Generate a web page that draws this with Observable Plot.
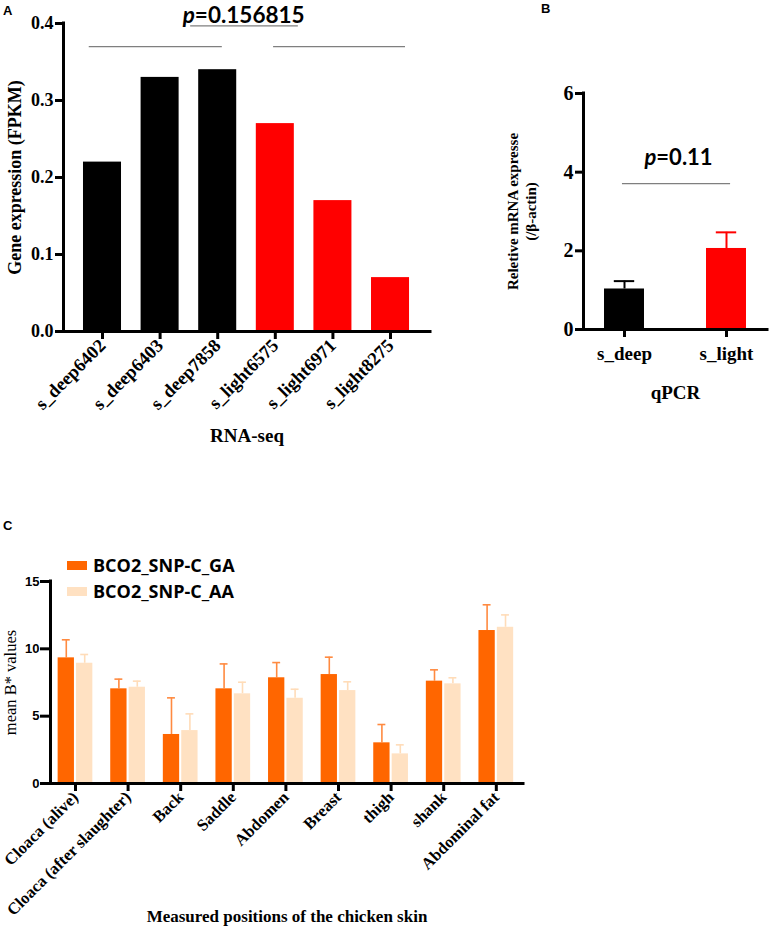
<!DOCTYPE html>
<html>
<head>
<meta charset="utf-8">
<script src="https://cdn.jsdelivr.net/npm/d3@7"></script>
<script src="https://cdn.jsdelivr.net/npm/@observablehq/plot@0.6"></script>
<style>
  body { margin: 0; background: #fff; }
  #root { position: relative; width: 770px; height: 927px; overflow: hidden; background: #fff; }
  .letter { position: absolute; font-family: "Liberation Sans", sans-serif; font-weight: bold; font-size: 13px; line-height: 13px; }
  .legend-row { position: absolute; left: 67px; height: 20px; display: flex; align-items: center; white-space: nowrap;
    font-family: "Open Sans", sans-serif; font-weight: bold; font-size: 18px; line-height: 20px; }
  .legend-row .sw { display: inline-block; width: 20px; height: 9px; margin-right: 6px; }
  svg { overflow: visible; }
</style>
</head>
<body>
<div id="root"></div>
<script>
// ---------------- DATA ----------------
// Panel A: RNA-seq
const rnaSamples = ["s_deep6402", "s_deep6403", "s_deep7858", "s_light6575", "s_light6971", "s_light8275"];
const rnaValues = [0.22, 0.33, 0.34, 0.27, 0.17, 0.07];
const rnaGroups = ["deep", "deep", "deep", "light", "light", "light"];
const rnaTicks = [0, 0.1, 0.2, 0.3, 0.4];
const rnaPText = "p=0.156815";
const rnaBrackets = [
  { from: -0.23, to: 2.08, level: 0.370 },
  { from: 2.97, to: 5.26, level: 0.370 },
  { from: 1.53, to: 3.40, level: 0.397 }
];

// Panel B: qPCR
const qpcrGroups = ["s_deep", "s_light"];
const qpcrMeans = [1.03, 2.06];
const qpcrErrors = [0.20, 0.41];
const qpcrTicks = [0, 2, 4, 6];
const qpcrPText = "p=0.11";
const qpcrBracket = [{ from: -0.02, to: 1.04, level: 3.71 }];

// Panel C: skin colour by genotype
const positions = ["Cloaca (alive)", "Cloaca (after slaughter)", "Back", "Saddle", "Abdomen", "Breast", "thigh", "shank", "Abdominal fat"];
const genotypes = ["BCO2_SNP-C_GA", "BCO2_SNP-C_AA"];
const gaMeans  = [9.33, 7.03, 3.64, 7.03, 7.85, 8.09, 3.02, 7.60, 11.36];
const gaErrors = [1.34, 0.72, 2.72, 1.85, 1.13, 1.29, 1.36, 0.84, 1.91];
const aaMeans  = [8.93, 7.15, 3.93, 6.66, 6.33, 6.90, 2.20, 7.40, 11.60];
const aaErrors = [0.65, 0.45, 1.24, 0.86, 0.67, 0.65, 0.67, 0.45, 0.92];
const skinTicks = [0, 5, 10, 15];

// ---------------- HELPERS ----------------
const root = document.getElementById("root");
function place(el, left, top) {
  el.style.position = "absolute";
  el.style.left = left + "px";
  el.style.top = top + "px";
  root.appendChild(el);
}
function italicP(svg) {
  d3.select(svg).selectAll("text").each(function () {
    const t = this.textContent;
    if (/^p=/.test(t)) {
      const target = this.querySelector("tspan") || this;
      target.textContent = "";
      const s = d3.select(target);
      s.append("tspan").attr("font-style", "italic").text("p");
      s.append("tspan").text(t.slice(1));
    }
  });
}
function letter(txt, left, top) {
  const d = document.createElement("div");
  d.className = "letter";
  d.textContent = txt;
  d.style.left = left + "px";
  d.style.top = top + "px";
  root.appendChild(d);
}
const serif = "Liberation Serif";
const baseStyle = { fontFamily: serif, fontWeight: "bold", fontSize: "17px", background: "transparent", color: "#000", overflow: "visible" };

// ---------------- PANEL A ----------------
const rnaData = rnaSamples.map((s, i) => ({ i, sample: s, value: rnaValues[i], group: rnaGroups[i] }));
const xDomA = [-0.677, 5.694];
const plotA = Plot.plot({
  width: 440, height: 460,
  marginLeft: 63, marginRight: 10, marginTop: 23, marginBottom: 129,
  style: baseStyle,
  x: { domain: xDomA },
  y: { domain: [0, 0.4] },
  color: { domain: ["deep", "light"], range: ["#000000", "#ff0000"] },
  marks: [
    Plot.rect(rnaData, { x1: d => d.i - 0.33, x2: d => d.i + 0.33, y1: 0, y2: "value", fill: "group" }),
    Plot.ruleY(rnaBrackets, { y: "level", x1: "from", x2: "to", stroke: "#7f7f7f", strokeWidth: 1.3 }),
    Plot.ruleY([0], { strokeWidth: 3, strokeLinecap: "square" }),
    Plot.ruleX([xDomA[0]], { y1: 0, y2: 0.4, strokeWidth: 3, strokeLinecap: "square" }),
    Plot.axisY({ ticks: rnaTicks, tickFormat: d3.format(".1f"), tickSize: 8, tickPadding: 2, strokeWidth: 3, fontSize: 18, label: null }),
    Plot.axisX({ ticks: rnaSamples.map((_, i) => i), tickFormat: i => rnaSamples[i], tickRotate: -45, tickSize: 8, tickPadding: 3, strokeWidth: 3, fontSize: 18.5, label: null }),
    Plot.text(["Gene expression (FPKM)"], { text: d => d, frameAnchor: "left", textAnchor: "middle", lineAnchor: "middle", rotate: -90, dx: -48, fontSize: 18 }),
    Plot.text(["RNA-seq"], { text: d => d, frameAnchor: "bottom", lineAnchor: "middle", dy: 104, fontSize: 19 }),
    Plot.text([rnaPText], { text: d => d, x: 2.45, y: 0.4, dy: -8, lineAnchor: "middle", fontFamily: "Lato", fontSize: 22.5, fontWeight: "bold" })
  ]
});
italicP(plotA);
place(plotA, 0, 0);

// ---------------- PANEL B ----------------
const qpcrData = qpcrGroups.map((g, i) => ({ i, group: g, mean: qpcrMeans[i], err: qpcrErrors[i] }));
const xDomB = [-0.402, 1.402];
const plotB = Plot.plot({
  width: 290, height: 340,
  marginLeft: 103, marginRight: 3, marginTop: 23, marginBottom: 81,
  style: baseStyle,
  x: { domain: xDomB },
  y: { domain: [0, 6] },
  color: { domain: qpcrGroups, range: ["#000000", "#ff0000"] },
  marks: [
    Plot.ruleX(qpcrData, { x: "i", y1: "mean", y2: d => d.mean + d.err, stroke: "group", strokeWidth: 2 }),
    Plot.ruleY(qpcrData, { y: d => d.mean + d.err, x1: d => d.i - 0.1, x2: d => d.i + 0.1, stroke: "group", strokeWidth: 2 }),
    Plot.rect(qpcrData, { x1: d => d.i - 0.196, x2: d => d.i + 0.196, y1: 0, y2: "mean", fill: "group" }),
    Plot.ruleY(qpcrBracket, { y: "level", x1: "from", x2: "to", stroke: "#7f7f7f", strokeWidth: 1.3 }),
    Plot.ruleY([0], { strokeWidth: 3, strokeLinecap: "square" }),
    Plot.ruleX([xDomB[0]], { y1: 0, y2: 6, strokeWidth: 3, strokeLinecap: "square" }),
    Plot.axisY({ ticks: qpcrTicks, tickFormat: d => String(d), tickSize: 8, tickPadding: 2, strokeWidth: 3, fontSize: 20, label: null }),
    Plot.axisX({ ticks: [0, 1], tickFormat: i => qpcrGroups[i], tickSize: 8, tickPadding: 9, strokeWidth: 3, fontSize: 19, label: null }),
    Plot.text(["Reletive mRNA expresse\n(/β-actin)"], { text: d => d, frameAnchor: "left", textAnchor: "middle", lineAnchor: "middle", rotate: -90, dx: -62, fontSize: 15, lineHeight: 1.2 }),
    Plot.text(["qPCR"], { text: d => d, frameAnchor: "bottom", lineAnchor: "middle", dy: 63, fontSize: 19 }),
    Plot.text([qpcrPText], { text: d => d, x: 0.53, y: 4.35, lineAnchor: "middle", fontFamily: "Lato", fontSize: 22, fontWeight: "bold" })
  ]
});
italicP(plotB);
place(plotB, 480, 70);

// ---------------- PANEL C ----------------
const skinData = [];
positions.forEach((p, i) => {
  skinData.push({ i, pos: p, geno: genotypes[0], mean: gaMeans[i], err: gaErrors[i], off: -1 });
  skinData.push({ i, pos: p, geno: genotypes[1], mean: aaMeans[i], err: aaErrors[i], off: 1 });
});
const xDomC = [-0.475, 8.517];
const plotC = Plot.plot({
  width: 530, height: 387,
  marginLeft: 50, marginRight: 7, marginTop: 41, marginBottom: 144,
  style: baseStyle,
  x: { domain: xDomC },
  y: { domain: [0, 15] },
  color: { domain: genotypes, range: ["#ff6600", "#ffe1c2"] },
  marks: [
    Plot.ruleX(skinData, { x: d => d.i + d.off * 0.175, y1: "mean", y2: d => d.mean + d.err,
      stroke: d => d.off < 0 ? "#ff8a40" : "#ffdcb8", strokeWidth: 1.6 }),
    Plot.ruleY(skinData, { y: d => d.mean + d.err, x1: d => d.i + d.off * 0.175 - 0.075, x2: d => d.i + d.off * 0.175 + 0.075,
      stroke: d => d.off < 0 ? "#ff8a40" : "#ffdcb8", strokeWidth: 1.6 }),
    Plot.rect(skinData, { x1: d => d.off < 0 ? d.i - 0.33 : d.i + 0.02, x2: d => d.off < 0 ? d.i - 0.02 : d.i + 0.33, y1: 0, y2: "mean", fill: "geno" }),
    Plot.ruleY([0], { strokeWidth: 3, strokeLinecap: "square" }),
    Plot.ruleX([xDomC[0]], { y1: 0, y2: 15, strokeWidth: 3, strokeLinecap: "square" }),
    Plot.axisY({ ticks: skinTicks, tickFormat: d => String(d), tickSize: 10, tickPadding: 1, strokeWidth: 3, fontSize: 13, fontFamily: "Liberation Sans", label: null }),
    Plot.axisX({ ticks: positions.map((_, i) => i), tickFormat: i => positions[i], tickRotate: -45, tickSize: 8, tickPadding: 3, strokeWidth: 3, fontSize: 16.5, label: null }),
    Plot.text(["mean B* values"], { text: d => d, frameAnchor: "left", textAnchor: "middle", lineAnchor: "middle", rotate: -90, dx: -40, fontSize: 16.5, fontWeight: "normal" }),
    Plot.text(["Measured positions of the chicken skin"], { text: d => d, frameAnchor: "bottom", lineAnchor: "middle", dy: 133, fontSize: 17 })
  ]
});
place(plotC, 0, 540);

// Legend for panel C
genotypes.forEach((g, k) => {
  const row = document.createElement("div");
  row.className = "legend-row";
  row.style.top = (555 + k * 26) + "px";
  const sw = document.createElement("span");
  sw.className = "sw";
  sw.style.background = k === 0 ? "#ff6600" : "#ffe1c2";
  row.appendChild(sw);
  row.appendChild(document.createTextNode(g));
  root.appendChild(row);
});

// Panel letters
letter("A", 3, 4);
letter("B", 541, 2);
letter("C", 3, 519);
</script>
</body>
</html>
